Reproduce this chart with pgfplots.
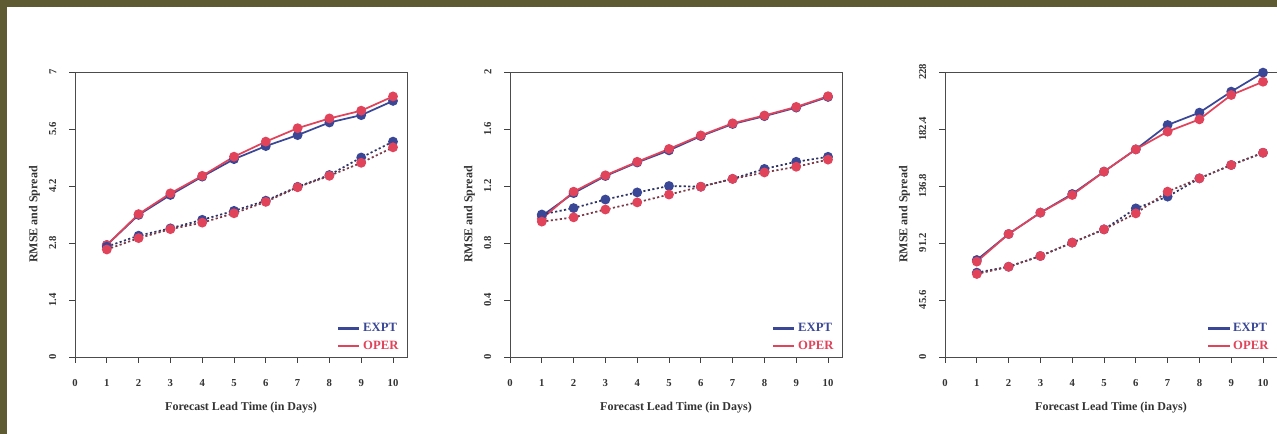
\documentclass[border=0pt]{standalone}
\usepackage{pgfplots}
\pgfplotsset{compat=1.18}
\usepackage{fontspec}
\setmainfont{Liberation Serif}
\definecolor{frame}{HTML}{5E5B32}
\definecolor{cexpt}{HTML}{3A4796}
\definecolor{coper}{HTML}{E0435A}
\definecolor{dexpt}{HTML}{2E3366}
\definecolor{doper}{HTML}{7A3A48}
\pgfplotsset{
  rpanel/.style={
    scale only axis,
    width=249pt, height=213.75pt,
    xmin=0, xmax=10.44, ymin=0,
    xtick={0,1,...,10},
    xtick pos=bottom, ytick pos=left,
    axis line style={draw=black!70, line width=0.7pt},
    tick align=outside,
    major tick length=4.5pt,
    tick style={black!75, line width=0.7pt},
    every tick label/.append style={font=\bfseries\fontsize{8}{9}\selectfont, text=black!80},
    /pgf/number format/assume math mode=true,
    xticklabel style={yshift=-8.5pt},
    yticklabel style={rotate=90, anchor=south, yshift=6pt},
    xlabel={Forecast Lead Time (in Days)},
    ylabel={RMSE and Spread},
    label style={font=\bfseries\fontsize{9}{10}\selectfont, text=black!80},
    xlabel style={yshift=-5pt},
    ylabel style={yshift=0pt},
    legend style={at={(rel axis cs:0.995,0.0)}, anchor=south east, draw=none, fill=none,
      font=\bfseries\fontsize{9.5}{10}\selectfont, row sep=1.5pt,
      /tikz/every even column/.append style={column sep=2pt}},
    legend image code/.code={\draw[#1, line width=1.6pt] (0pt,0pt) -- (16pt,0pt);},
    legend cell align=left,
  },
  sexpt/.style={cexpt, line width=1.3pt, mark=*, mark size=3pt, mark options={solid, fill=cexpt, draw=cexpt}},
  soper/.style={coper, line width=1.3pt, mark=*, mark size=3pt, mark options={solid, fill=coper, draw=coper}},
  dexp/.style={dexpt, line width=1.3pt, dash pattern=on 1.6pt off 1.8pt, mark=*, mark size=3pt, mark options={solid, fill=cexpt, draw=cexpt}},
  dope/.style={doper, line width=1.3pt, dash pattern=on 1.6pt off 1.8pt, mark=*, mark size=3pt, mark options={solid, fill=coper, draw=coper}},
}
\begin{document}
\begin{tikzpicture}
\useasboundingbox (0,0) rectangle (957.75pt,325.5pt);
\clip (0,0) rectangle (957.75pt,325.5pt);
\fill[frame] (0,0) rectangle (957.75pt,325.5pt);
\fill[white] (5.25pt,0) rectangle (957.75pt,320.25pt);

% Panel 1
\begin{axis}[rpanel, at={(56.25pt,57.75pt)}, anchor=south west,
  ymax=7, ytick={0,1.4,2.8,4.2,5.6,7}, yticklabels={0,1.4,2.8,4.2,5.6,7}]
\addplot[sexpt] coordinates {(1,2.75)(2,3.49)(3,3.98)(4,4.43)(5,4.86)(6,5.18)(7,5.45)(8,5.76)(9,5.94)(10,6.29)};
\addlegendentry{\textcolor{cexpt}{EXPT}}
\addplot[soper] coordinates {(1,2.75)(2,3.51)(3,4.02)(4,4.45)(5,4.92)(6,5.29)(7,5.62)(8,5.86)(9,6.05)(10,6.40)};
\addlegendentry{\textcolor{coper}{OPER}}
\addplot[dexp, forget plot] coordinates {(1,2.71)(2,2.98)(3,3.16)(4,3.37)(5,3.59)(6,3.84)(7,4.18)(8,4.47)(9,4.90)(10,5.29)};
\addplot[dope, forget plot] coordinates {(1,2.64)(2,2.92)(3,3.14)(4,3.30)(5,3.53)(6,3.81)(7,4.17)(8,4.45)(9,4.77)(10,5.15)};
\end{axis}

% Panel 2
\begin{axis}[rpanel, at={(382.5pt,57.75pt)}, anchor=south west,
  ymax=2, ytick={0,0.4,0.8,1.2,1.6,2}, yticklabels={0,0.4,0.8,1.2,1.6,2}]
\addplot[sexpt] coordinates {(1,0.99)(2,1.15)(3,1.27)(4,1.365)(5,1.45)(6,1.55)(7,1.635)(8,1.69)(9,1.75)(10,1.825)};
\addlegendentry{\textcolor{cexpt}{EXPT}}
\addplot[soper] coordinates {(1,0.97)(2,1.16)(3,1.275)(4,1.37)(5,1.46)(6,1.555)(7,1.64)(8,1.695)(9,1.755)(10,1.83)};
\addlegendentry{\textcolor{coper}{OPER}}
\addplot[dexp, forget plot] coordinates {(1,1.00)(2,1.045)(3,1.105)(4,1.155)(5,1.20)(6,1.195)(7,1.25)(8,1.32)(9,1.37)(10,1.405)};
\addplot[dope, forget plot] coordinates {(1,0.95)(2,0.98)(3,1.035)(4,1.085)(5,1.14)(6,1.195)(7,1.25)(8,1.295)(9,1.335)(10,1.385)};
\end{axis}

% Panel 3
\begin{axis}[rpanel, at={(708.75pt,57.75pt)}, anchor=south west,
  ymax=228, ytick={0,45.6,91.2,136.8,182.4,228}, yticklabels={0,45.6,91.2,136.8,182.4,228}]
\addplot[sexpt] coordinates {(1,77.6)(2,98.4)(3,115.5)(4,130.4)(5,148.3)(6,166.1)(7,185.6)(8,195.5)(9,212.3)(10,227.5)};
\addlegendentry{\textcolor{cexpt}{EXPT}}
\addplot[soper] coordinates {(1,76.3)(2,98.4)(3,115.5)(4,129.6)(5,148.3)(6,166.1)(7,180.3)(8,190.1)(9,209.6)(10,220.2)};
\addlegendentry{\textcolor{coper}{OPER}}
\addplot[dexp, forget plot] coordinates {(1,67.5)(2,72.2)(3,80.8)(4,91.5)(5,102.1)(6,118.9)(7,128.3)(8,142.9)(9,153.6)(10,163.4)};
\addplot[dope, forget plot] coordinates {(1,66.4)(2,72.2)(3,80.8)(4,91.5)(5,102.1)(6,114.9)(7,132.3)(8,142.9)(9,153.6)(10,163.4)};
\end{axis}
\end{tikzpicture}
\end{document}
